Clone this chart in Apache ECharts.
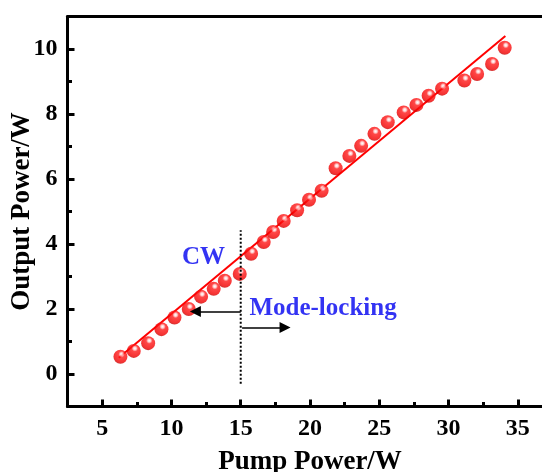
<!DOCTYPE html>
<html>
<head>
<meta charset="utf-8">
<script src="https://cdn.jsdelivr.net/npm/echarts@6/dist/echarts.min.js"></script>
<style>
html,body{margin:0;padding:0;background:#fff;}
#chart{width:542px;height:472px;}
</style>
</head>
<body>
<div id="chart"></div>
<script>
// Measured data (Pump Power / W vs Output Power / W)
const pumpPower = [6.32, 7.28, 8.32, 9.28, 10.22, 11.25, 12.14, 13.05, 13.85, 14.93,
  15.75, 16.66, 17.34, 18.10, 19.07, 19.93, 20.84, 21.85, 22.84, 23.69,
  24.65, 25.61, 26.76, 27.68, 28.56, 29.53, 31.14, 32.06, 33.14, 34.05];
const outputPower = [0.53, 0.71, 0.95, 1.38, 1.74, 2.00, 2.38, 2.62, 2.87, 3.08,
  3.70, 4.06, 4.37, 4.71, 5.04, 5.36, 5.64, 6.33, 6.71, 7.02,
  7.39, 7.75, 8.05, 8.28, 8.56, 8.78, 9.03, 9.23, 9.54, 10.04];
// Linear fit line endpoints
const fitPump = [6.2, 34.1];
const fitOutput = [0.5, 10.4];
// Tick values
const xTickLabels = [5, 10, 15, 20, 25, 30, 35];
const xMinorTicks = [7.5, 12.5, 17.5, 22.5, 27.5, 32.5];
const yTickLabels = [0, 2, 4, 6, 8, 10];
const yMinorTicks = [1, 3, 5, 7, 9];
// Annotation: CW / Mode-locking boundary
const boundaryPump = [15, 15];
const boundaryOutput = [-0.3, 4.42];
const cwArrow = [[15, 1.92], [11.73, 1.92]];
const mlArrow = [[15.1, 1.43], [18.2, 1.43]];
const annotationNames = ['CW', 'Mode-locking'];
const annotationPos = [[12.31, 3.58], [15.63, 2.02]];

const FONT = 'Liberation Serif';
const chart = echarts.init(document.getElementById('chart'), null, {renderer: 'canvas'});

const sphere = {
  type: 'radial', x: 0.58, y: 0.32, r: 0.75,
  colorStops: [
    {offset: 0, color: '#ffffff'},
    {offset: 0.14, color: '#ffc8c8'},
    {offset: 0.3, color: '#ff1a1a'},
    {offset: 0.75, color: '#f20000'},
    {offset: 1, color: '#b00000'}
  ]
};

const xMin = 2.5, xMax = 37.5, yMin = -1, yMax = 11;
const GRID = {left: 67.5, top: 16.5, width: 485, height: 390};
const titleStyle = {color: '#000', fontFamily: FONT, fontWeight: 'bold', fontSize: 27};
const labelStyle = {color: '#000', fontFamily: FONT, fontWeight: 'bold', fontSize: 24};
const frameLine = {color: '#000', width: 3};
const tickStyle = {color: '#000', width: 3};

function axis(extra) {
  return Object.assign({
    type: 'value', splitLine: {show: false},
    axisLine: {show: false, onZero: false},
    axisTick: {show: false}, axisLabel: {show: false}
  }, extra);
}

const option = {
  animation: false,
  backgroundColor: '#fff',
  grid: Object.assign({show: false, containLabel: false, outerBoundsMode: 'none'}, GRID),
  xAxis: [
    axis({
      min: xMin, max: xMax, position: 'bottom',
      axisLine: {show: true, onZero: false, lineStyle: frameLine},
      axisTick: {show: true, inside: true, length: 7, customValues: xTickLabels, lineStyle: tickStyle},
      axisLabel: Object.assign({show: true, customValues: xTickLabels, margin: 10}, labelStyle),
      name: 'Pump Power/W', nameLocation: 'middle', nameGap: 42, nameMoveOverlap: false,
      nameTextStyle: titleStyle
    }),
    axis({
      min: xMin, max: xMax, position: 'bottom',
      axisTick: {show: true, inside: true, length: 4.5, customValues: xMinorTicks, lineStyle: tickStyle}
    }),
    axis({
      // top frame line
      min: xMin, max: xMax, position: 'top',
      axisLine: {show: true, onZero: false, lineStyle: frameLine}
    })
  ],
  yAxis: [
    axis({
      min: yMin, max: yMax, position: 'left',
      axisLine: {show: true, onZero: false, lineStyle: frameLine},
      axisTick: {show: true, inside: true, length: 7, customValues: yTickLabels, lineStyle: tickStyle},
      axisLabel: Object.assign({show: true, customValues: yTickLabels, margin: 10}, labelStyle),
      name: 'Output Power/W', nameLocation: 'middle', nameGap: 32, nameMoveOverlap: false,
      nameTextStyle: titleStyle
    }),
    axis({
      min: yMin, max: yMax, position: 'left',
      axisTick: {show: true, inside: true, length: 4.5, customValues: yMinorTicks, lineStyle: tickStyle}
    })
  ],
  series: [
    {
      type: 'line', name: 'fit', xAxisIndex: 0, yAxisIndex: 0,
      data: fitPump.map((x, i) => [x, fitOutput[i]]),
      showSymbol: false, symbol: 'none', z: 2,
      lineStyle: {color: '#ff0000', width: 2}
    },
    {
      type: 'scatter', name: 'data', xAxisIndex: 0, yAxisIndex: 0,
      data: pumpPower.map((x, i) => [x, outputPower[i]]),
      symbol: 'circle', symbolSize: 14, z: 3,
      itemStyle: {color: sphere}
    },
    {
      type: 'line', name: 'boundary', xAxisIndex: 0, yAxisIndex: 0,
      data: boundaryPump.map((x, i) => [x, boundaryOutput[i]]),
      symbol: 'none', z: 4,
      lineStyle: {color: '#000', width: 2, type: [2, 2]}
    },
    {
      type: 'lines', coordinateSystem: 'cartesian2d', xAxisIndex: 0, yAxisIndex: 0,
      z: 4,
      symbol: ['none', 'triangle'], symbolSize: [8, 11],
      lineStyle: {color: '#000', width: 1.5, opacity: 1},
      data: [{coords: cwArrow}, {coords: mlArrow}]
    },
    {
      type: 'scatter', name: 'labels', xAxisIndex: 0, yAxisIndex: 0,
      symbolSize: 0, z: 5, silent: true,
      data: annotationPos.map((p, i) => ({value: p, name: annotationNames[i],
        label: {align: i === 0 ? 'center' : 'left'}})),
      label: {show: true, position: 'inside', formatter: '{b}',
        color: '#0000f0', fontFamily: FONT, fontWeight: 'bold', fontSize: 25,
        verticalAlign: 'middle'}
    }
  ]
};
chart.setOption(option);
</script>
</body>
</html>
